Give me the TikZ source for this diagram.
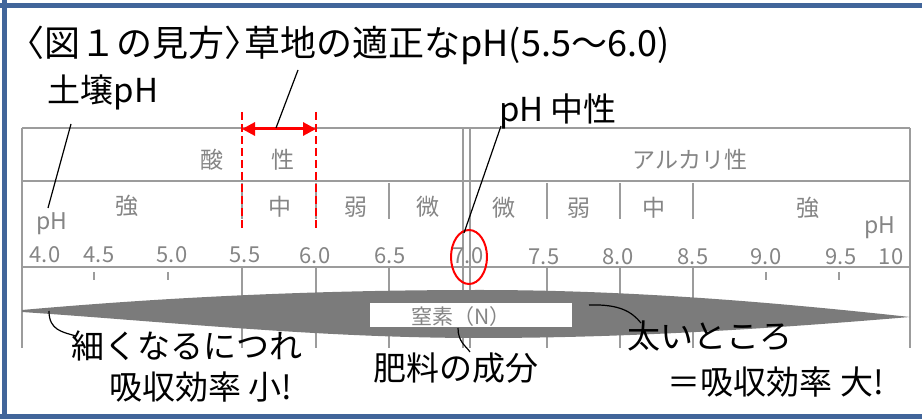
\documentclass[tikz,border=0pt]{standalone}
\usepackage{fontspec}
\newfontfamily\jp{Noto Sans CJK JP}
\usetikzlibrary{arrows.meta}
\definecolor{frameblue}{HTML}{41659A}
\definecolor{tabgray}{HTML}{9C9C9C}
\definecolor{txtgray}{HTML}{858585}
\definecolor{lensgray}{HTML}{7B7B7B}
\begin{document}
\begin{tikzpicture}[x=1pt,y=-1pt,
  tabline/.style={draw=tabgray, line width=1.8pt},
  gtext/.style={text=txtgray, font=\jp\fontsize{23}{26}\selectfont, inner sep=0pt},
  ntext/.style={text=txtgray, font=\jp\fontsize{22}{26}\selectfont, inner sep=0pt},
  btext/.style={text=black, font=\jp\fontsize{33}{38}\selectfont, inner sep=0pt},
  leader/.style={draw=black, line width=1.2pt},
  reddash/.style={draw=red, line width=2.3pt, dash pattern=on 8pt off 4pt},
  framebar/.style={draw=frameblue, line width=5pt}]
\useasboundingbox (0,0) rectangle (922,419);
\fill[white] (0,0) rectangle (922,419);
% frame
\draw[framebar] (0,5.5) -- (922,5.5);
\draw[framebar] (0,416.5) -- (922,416.5);
\draw[framebar] (4.5,0) -- (4.5,419);
% table
\draw[tabline] (22,128) -- (910,128);
\draw[tabline] (22,181) -- (910,181);
\draw[tabline] (22,267) -- (910,267);
\draw[tabline] (22,128) -- (22,348);
\draw[tabline] (910,128) -- (910,348);
\draw[tabline] (463,128) -- (463,348);
\draw[tabline] (470,128) -- (470,348);
\foreach \x in {242,316,389,547,620,693} \draw[tabline] (\x,183) -- (\x,219);
\foreach \x in {242,316,389,547,620,693} \draw[tabline] (\x,267) -- (\x,348);
\foreach \x in {94,168,766,839} \draw[tabline, line width=1.5pt] (\x,272) -- (\x,280);
% table texts
\node[gtext] (san) at (212,160) {酸};
\node[gtext] (sei) at (283,160) {性};
\node[gtext] (alk) at (690,160) {アルカリ性};
\node[gtext] (k1) at (127,206) {強};
\node[gtext] (k2) at (280,207) {中};
\node[gtext] (k3) at (356,207) {弱};
\node[gtext] (k4) at (428,207) {微};
\node[gtext] (k5) at (504,208) {微};
\node[gtext] (k6) at (579,208) {弱};
\node[gtext] (k7) at (654,208) {中};
\node[gtext] (k8) at (808,208) {強};
\node[gtext] (phl) at (52,224) {pH};
\node[gtext] (phr) at (880,228) {pH};
\foreach \v/\x/\y in {4.0/45/255,4.5/99/255,5.0/172/255,5.5/245/255,6.0/315/256,6.5/390/256,7.0/468/256,7.5/544/257,8.0/618/257,8.5/693/257,9.0/766/257,9.5/841/257,10/891/257}
  \node[ntext] at (\x,\y) {\v};
% lens
\fill[lensgray] (22,310) .. controls (180,296) and (330,290) .. (480,290)
  .. controls (640,290) and (790,304) .. (910,317)
  .. controls (790,327) and (640,338) .. (480,338)
  .. controls (320,338) and (170,322) .. (22,312) -- cycle;
\node[fill=white, inner sep=0pt, minimum width=202pt, minimum height=24pt] (nbox) at (471,315) {};
\node[gtext, font=\jp\fontsize{21}{24}\selectfont] (ntxt) at (461,317) {窒素（N）};
% red marks
\draw[reddash] (242,112) -- (242,230);
\draw[reddash] (316,112) -- (316,230);
\coordinate (ra) at (242,129);
\coordinate (rb) at (316,129);
\draw[red, line width=3pt, {Triangle[length=13pt,width=13pt]}-{Triangle[length=13pt,width=13pt]}] (ra) -- (rb);
\draw[red, line width=2pt] (469,257) ellipse [x radius=18, y radius=27];
% labels
\node[btext, font=\jp\fontsize{36}{40}\selectfont] (title) at (347,45) {\makebox[0.55em][r]{〈}図１の見方\makebox[0.55em][l]{〉}草地の適正なpH(5.5〜6.0)};
\node[btext] (dojo) at (103,92) {土壌pH};
\node[btext] (chusei) at (558,111) {pH 中性};
\node[btext] (hoso) at (187,346) {細くなるにつれ};
\node[btext] (kyu1) at (201,387) {吸収効率 小!};
\node[btext] (hiryo) at (456,368) {肥料の成分};
\node[btext] (futoi) at (710,336) {太いところ};
\node[btext] (kyu2) at (776,382) {＝吸収効率 大!};
% leaders
\coordinate (t1) at (298,70);
\coordinate (t2) at (276,128);
\draw[leader] (t1) -- (t2);
\coordinate (d1) at (71,124);
\coordinate (d2) at (48,208);
\draw[leader] (d1) -- (d2);
\coordinate (c1) at (501,126);
\coordinate (c2) at (464,233);
\draw[leader] (c1) -- (c2);
\coordinate (h1) at (49,311);
\coordinate (h2) at (76,336);
\draw[leader] (h1) .. controls (49,330) and (62,332) .. (h2);
\coordinate (f1) at (458,328);
\coordinate (f2) at (470,352);
\draw[leader] (f1) .. controls (458,342) and (466,346) .. (f2);
\coordinate (g1) at (589,305);
\coordinate (g2) at (641,323);
\draw[leader] (g1) .. controls (620,304) and (632,312) .. (g2);
\end{tikzpicture}
\end{document}
